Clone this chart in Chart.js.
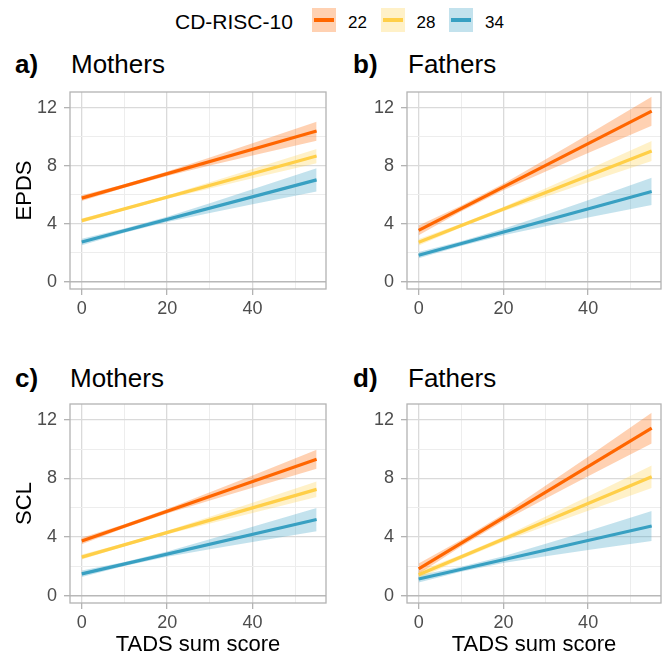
<!DOCTYPE html>
<html><head><meta charset="utf-8">
<script src="https://cdn.jsdelivr.net/npm/chart.js@4.4.1/dist/chart.umd.min.js"></script>
<style>
body{margin:0;background:#fff;width:662px;height:659px;position:relative;overflow:hidden;font-family:"Liberation Sans",Arial,sans-serif;}
.abs{position:absolute;}
.ttl{font-size:26px;line-height:26px;color:#000;white-space:nowrap;}
.ttl b{font-weight:bold;}
.lgT{font-size:21px;line-height:21px;color:#000;white-space:nowrap;}
.lgL{font-size:17px;line-height:17px;color:#000;white-space:nowrap;}
.key{width:24px;height:24px;}
.key i{position:absolute;left:2px;right:2px;top:10px;height:4px;}
</style>
</head><body>
<div id="legend"></div>
<div class="abs ttl" style="left:15px;top:51px"><b>a)</b></div>
<div class="abs ttl" style="left:71px;top:51px">Mothers</div>
<div class="abs ttl" style="left:353px;top:51px"><b>b)</b></div>
<div class="abs ttl" style="left:408px;top:51px">Fathers</div>
<div class="abs ttl" style="left:15px;top:365px"><b>c)</b></div>
<div class="abs ttl" style="left:70px;top:365px">Mothers</div>
<div class="abs ttl" style="left:353px;top:365px"><b>d)</b></div>
<div class="abs ttl" style="left:408px;top:365px">Fathers</div>
<canvas id="ca" class="abs" width="331" height="240" style="left:0;top:85px"></canvas>
<canvas id="cb" class="abs" width="325" height="240" style="left:337px;top:85px"></canvas>
<canvas id="cc" class="abs" width="331" height="262" style="left:0;top:397px"></canvas>
<canvas id="cd" class="abs" width="325" height="262" style="left:337px;top:397px"></canvas>
<script>
// ---- data ----
const legendTitle = 'CD-RISC-10';
const levels = ['22', '28', '34'];
const lineColors = ['#FF6600', '#FFCF48', '#38A0C2'];
const bandColors = ['rgba(255,102,0,0.3)', 'rgba(255,207,72,0.3)', 'rgba(56,160,194,0.3)'];
const xTitle = 'TADS sum score';
const xTicks = [0, 10, 20, 30, 40, 50];
const xLabels = [0, 20, 40];
const yTicks = [0, 2, 4, 6, 8, 10, 12];
const yLabels = [0, 4, 8, 12];
const tadsEnds = [0, 55];
const tadsBand = [0, 10, 20, 30, 40, 55];

// a) Mothers, EPDS  (rows: 22, 28, 34)
const motherEpdsFit = [[5.76, 10.38], [4.21, 8.66], [2.74, 7.02]];
const motherEpdsUp  = [[5.96, 6.72, 7.59, 8.56, 9.54, 11.02], [4.36, 5.11, 5.94, 6.85, 7.77, 9.15], [2.96, 3.66, 4.48, 5.41, 6.37, 7.82]];
const motherEpdsLo  = [[5.56, 6.48, 7.29, 8.00, 8.70, 9.72], [4.06, 4.93, 5.72, 6.43, 7.13, 8.17], [2.52, 3.38, 4.12, 4.73, 5.33, 6.22]];
// b) Fathers, EPDS
const fatherEpdsFit = [[3.54, 11.75], [2.72, 9.00], [1.83, 6.22]];
const fatherEpdsUp  = [[3.88, 5.23, 6.75, 8.44, 10.15, 12.75], [2.94, 3.99, 5.15, 6.44, 7.73, 9.69], [2.05, 2.79, 3.65, 4.62, 5.62, 7.16]];
const fatherEpdsLo  = [[3.20, 4.83, 6.31, 7.60, 8.87, 10.75], [2.50, 3.73, 4.85, 5.86, 6.85, 8.31], [1.61, 2.47, 3.21, 3.82, 4.42, 5.28]];
// c) Mothers, SCL
const motherSclFit = [[3.73, 9.30], [2.63, 7.25], [1.49, 5.19]];
const motherSclUp  = [[3.95, 4.87, 5.91, 7.05, 8.20, 9.95], [2.80, 3.57, 4.43, 5.38, 6.34, 7.78], [1.71, 2.30, 3.02, 3.85, 4.70, 5.98]];
const motherSclLo  = [[3.51, 4.61, 5.61, 6.49, 7.36, 8.65], [2.46, 3.37, 4.19, 4.92, 5.64, 6.72], [1.27, 2.02, 2.66, 3.17, 3.66, 4.40]];
// d) Fathers, SCL
const fatherSclFit = [[1.83, 11.43], [1.42, 8.11], [1.14, 4.75]];
const fatherSclUp  = [[2.19, 3.80, 5.56, 7.51, 9.48, 12.48], [1.67, 2.79, 4.02, 5.39, 6.77, 8.88], [1.39, 1.97, 2.68, 3.54, 4.41, 5.77]];
const fatherSclLo  = [[1.47, 3.36, 5.08, 6.63, 8.14, 10.38], [1.17, 2.49, 3.68, 4.75, 5.79, 7.34], [0.89, 1.63, 2.22, 2.68, 3.11, 3.73]];

// ---- legend ----
const FONT = '"Liberation Sans", Arial, sans-serif';
(function buildLegend(){
  const lg = document.getElementById('legend');
  const t = document.createElement('div');
  t.className = 'abs lgT'; t.style.left = '175px'; t.style.top = '10.5px'; t.textContent = legendTitle;
  lg.appendChild(t);
  levels.forEach((lv, i) => {
    const k = document.createElement('div');
    k.className = 'abs key';
    k.style.left = (312 + i * 68.5) + 'px'; k.style.top = '8px';
    k.style.background = bandColors[i];
    const ln = document.createElement('i'); ln.className = 'abs'; ln.style.background = lineColors[i];
    k.appendChild(ln);
    lg.appendChild(k);
    const l = document.createElement('div');
    l.className = 'abs lgL'; l.style.left = (348 + i * 68.5) + 'px'; l.style.top = '14px'; l.textContent = lv;
    lg.appendChild(l);
  });
})();

// ---- charts ----
const panelBorder = {
  id: 'panelBorder',
  afterDraw(chart) {
    const {ctx, chartArea: a} = chart;
    ctx.save();
    ctx.strokeStyle = '#B3B3B3';
    ctx.lineWidth = 1.3;
    ctx.strokeRect(a.left, a.top, a.right - a.left, a.bottom - a.top);
    ctx.restore();
  }
};

function makePanel(id, fit, up, lo, o) {
  const datasets = [];
  levels.forEach((lv, i) => {
    datasets.push({
      label: lv, data: tadsEnds.map((x, j) => ({x, y: fit[i][j]})),
      borderColor: lineColors[i], borderWidth: 3.2, pointRadius: 0, fill: false, order: 0
    });
  });
  levels.forEach((lv, i) => {
    datasets.push({
      label: lv + ' upper', data: tadsBand.map((x, j) => ({x, y: up[i][j]})),
      borderColor: 'rgba(0,0,0,0)', borderWidth: 0, backgroundColor: bandColors[i],
      pointRadius: 0, fill: '+1', order: 1
    });
    datasets.push({
      label: lv + ' lower', data: tadsBand.map((x, j) => ({x, y: lo[i][j]})),
      borderColor: 'rgba(0,0,0,0)', borderWidth: 0, pointRadius: 0, fill: false, order: 1
    });
  });
  new Chart(document.getElementById(id), {
    type: 'line',
    data: {datasets},
    options: {
      responsive: false, animation: false, devicePixelRatio: 1,
      layout: {padding: {top: 7, right: o.padRight, left: 0, bottom: 0}},
      plugins: {legend: {display: false}, tooltip: {enabled: false}},
      scales: {
        x: {
          type: 'linear', min: -2.75, max: 57.2,
          afterBuildTicks: s => { s.ticks = xTicks.map(v => ({value: v})); },
          afterFit: s => { s.height = o.xH; s.paddingLeft = 0; s.paddingRight = 0; },
          ticks: {
            autoSkip: false, maxRotation: 0, padding: 3, color: '#4D4D4D',
            font: {family: FONT, size: 18},
            callback: v => xLabels.includes(v) ? String(v) : ''
          },
          grid: {
            color: c => xLabels.includes(c.tick.value) ? '#DADADA' : '#EDEDED',
            lineWidth: c => xLabels.includes(c.tick.value) ? 1.3 : 1,
            tickLength: 6,
            tickColor: c => xLabels.includes(c.tick.value) ? '#B3B3B3' : 'rgba(0,0,0,0)'
          },
          border: {display: false},
          title: {display: o.xTitle, text: xTitle, color: '#000',
                  font: {family: FONT, size: 22}, padding: {top: 0, bottom: 1}}
        },
        y: {
          type: 'linear', min: -0.5, max: 13.07,
          afterBuildTicks: s => { s.ticks = yTicks.map(v => ({value: v})); },
          afterFit: s => { s.width = 70; s.paddingTop = 0; s.paddingBottom = 0; },
          ticks: {
            autoSkip: false, padding: 7, color: '#4D4D4D',
            font: {family: FONT, size: 18},
            callback: v => yLabels.includes(v) ? String(v) : ''
          },
          grid: {
            color: c => c.tick.value === 0 ? '#B8B8B8' : (yLabels.includes(c.tick.value) ? '#DADADA' : '#EDEDED'),
            lineWidth: c => c.tick.value === 0 ? 1.4 : (yLabels.includes(c.tick.value) ? 1.3 : 1),
            tickLength: 6,
            tickColor: c => yLabels.includes(c.tick.value) ? '#B3B3B3' : 'rgba(0,0,0,0)'
          },
          border: {display: false},
          title: {display: !!o.yTitle, text: o.yTitle || '', color: '#000',
                  font: {family: FONT, size: 22}, padding: {top: 12, bottom: 0}}
        }
      }
    },
    plugins: [panelBorder]
  });
}

makePanel('ca', motherEpdsFit, motherEpdsUp, motherEpdsLo, {padRight: 5, xH: 36, xTitle: false, yTitle: 'EPDS'});
makePanel('cb', fatherEpdsFit, fatherEpdsUp, fatherEpdsLo, {padRight: 1, xH: 36, xTitle: false, yTitle: ''});
makePanel('cc', motherSclFit, motherSclUp, motherSclLo, {padRight: 5, xH: 56, xTitle: true, yTitle: 'SCL'});
makePanel('cd', fatherSclFit, fatherSclUp, fatherSclLo, {padRight: 1, xH: 56, xTitle: true, yTitle: ''});
</script>
</body></html>
